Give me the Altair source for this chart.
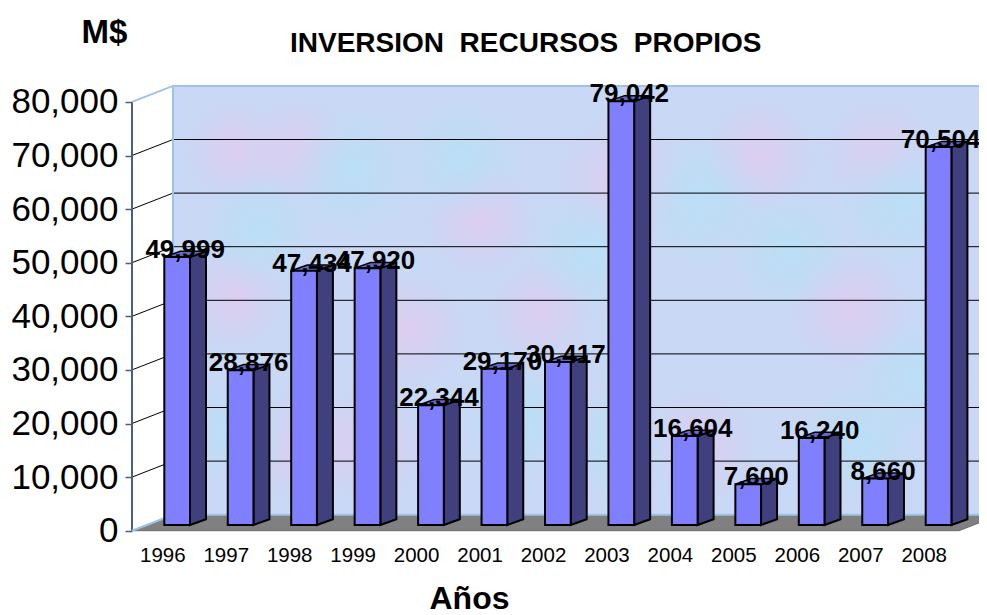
import altair as alt
import pandas as pd

years = [1996, 1997, 1998, 1999, 2000, 2001, 2002, 2003, 2004, 2005, 2006, 2007, 2008]
values = [49999, 28876, 47434, 47920, 22344, 29170, 30417, 79042, 16604, 7600, 16240, 8660, 70504]
ticks = [0, 10000, 20000, 30000, 40000, 50000, 60000, 70000, 80000]

# tints seen on the back wall: page pixel x, y, radius
pink_x = [235, 300, 410, 540, 620, 850, 880, 300, 700, 480, 760, 235, 370]
pink_y = [150, 150, 330, 313, 180, 310, 155, 445, 445, 220, 155, 300, 445]
pink_r = [58, 60, 65, 60, 75, 70, 65, 65, 65, 65, 65, 58, 65]
cyan_x = [350, 460, 590, 700, 900, 260, 520, 790, 915, 620, 240, 860]
cyan_y = [170, 160, 250, 200, 200, 230, 420, 250, 380, 445, 430, 445]
cyan_r = [75, 70, 70, 75, 75, 65, 65, 70, 70, 65, 65, 65]

W, H = 971, 606
PXY = 63.45            # pixels per year
PXV = 53.6 / 10000     # pixels per value unit
X0 = 1996 - (164.3 - 8) / PXY
X1 = X0 + W / PXY
Y0 = -(614 - 530.7) / PXV
Y1 = (530.7 - 8) / PXV

FW = 25.7 / PXY        # bar front width
FD = 16 / PXY          # bar depth in x
RISE = 5.7 / PXV       # bar depth in y
WD_X = 41 / PXY        # wall depth in x
WD_Y = 16 / PXV        # wall depth in y
XL = X0 + (132 - 8) / PXY       # front-left corner
XB = XL + WD_X                  # back-left corner
XR = X0 + (959 - 8) / PXY       # front-right corner

xs = alt.Scale(domain=[X0, X1], nice=False, zero=False)
ys = alt.Scale(domain=[Y0, Y1], nice=False, zero=False)
X = lambda **k: alt.X("x:Q", scale=xs, **k)
Y = lambda **k: alt.Y("y:Q", scale=ys, **k)
NOAX = {}


def page_x(p):
    return X0 + (p - 8) / PXY


def page_y(p):
    return (530.7 - p) / PXV


# back wall, carrying both axes
wall = alt.Chart(pd.DataFrame([{"x": XB, "x2": X1, "y": WD_Y, "y2": 80000 + WD_Y}])).mark_rect(
    fill="#c8d8f5"
).encode(
    X(
        axis=alt.Axis(
            values=years, format="d", domain=False, ticks=False, grid=False,
            labelFontSize=20.5, labelFont="Liberation Sans", labelColor="#000000", labelOffset=-2,
            labelPadding=0, offset=-69, labelOverlap=False, labelFlush=False,
            title="Años", titleFont="Liberation Sans", titleFontSize=32, titleFontWeight="bold",
            titleColor="#000000", titleX=461, titleY=63, titleBaseline="alphabetic", titleAnchor="middle",
        )
    ),
    x2="x2:Q",
    y=Y(
        axis=alt.Axis(
            values=ticks, format=",d", grid=False, domain=False,
            tickColor="#4a5f7f", tickWidth=1.5, tickSize=7, labelPadding=7,
            labelFontSize=35, labelFont="Liberation Sans", labelColor="#000000",
            offset=-124, labelFlush=False, labelOverlap=False,
            title="M$", titleFont="Liberation Sans", titleFontSize=33, titleFontWeight="bold",
            titleColor="#000000", titleAngle=0, titleX=-28, titleY=34, titleAlign="center", titleBaseline="alphabetic",
        )
    ),
    y2="y2:Q",
)


def tint_layer(xp, yp, rp, color):
    grad = alt.Gradient(
        gradient="radial", x1=0.5, y1=0.5, r1=0, x2=0.5, y2=0.5, r2=0.5,
        stops=[
            alt.GradientStop(offset=0, color=color),
            alt.GradientStop(offset=1, color=color + "00"),
        ],
    )
    frames = []
    for px, py, r in zip(xp, yp, rp):
        df = pd.DataFrame({"x": [page_x(px)], "y": [page_y(py)]})
        frames.append(
            alt.Chart(df).mark_circle(fill=grad, opacity=0.7, size=3.1416 * r * r, clip=True).encode(
                X(**NOAX), Y(**NOAX)
            )
        )
    return frames


tints = tint_layer(pink_x, pink_y, pink_r, "#e6c8ee") + tint_layer(cyan_x, cyan_y, cyan_r, "#b4e2f6")

# grid on the wall
grid_df = pd.DataFrame({"x": [XB] * 7, "x2": [X1] * 7, "y": [t + WD_Y for t in ticks[1:8]]})
grid = alt.Chart(grid_df).mark_rule(color="#000000", strokeWidth=1).encode(X(**NOAX), x2="x2:Q", y=Y(**NOAX))

# diagonal wall lines
rows = []
for t in ticks[1:8]:
    rows += [{"t": t, "x": XL, "y": t}, {"t": t, "x": XB, "y": t + WD_Y}]
diag = alt.Chart(pd.DataFrame(rows)).mark_line(color="#000000", strokeWidth=1).encode(
    X(**NOAX), Y(**NOAX), detail="t:N"
)

# value axis line
axis_line = alt.Chart(pd.DataFrame([{"x": XL, "y": 0, "y2": 80000}])).mark_rule(
    color="#4a5f7f", strokeWidth=2
).encode(X(**NOAX), y=Y(**NOAX), y2="y2:Q")

# floor
floor_df = pd.DataFrame([
    {"x": XL, "y": 0, "y2": 0},
    {"x": XB, "y": 0, "y2": WD_Y},
    {"x": XR, "y": 0, "y2": WD_Y},
    {"x": XR + WD_X, "y": WD_Y, "y2": WD_Y},
])
floor = alt.Chart(floor_df).mark_area(color="#808080", clip=True, stroke="#6a6a6a", strokeWidth=1).encode(
    X(**NOAX), Y(**NOAX), y2="y2:Q"
)

# light blue frame of the walls
frame_rows = [
    {"s": "a", "o": 0, "x": XL, "y": 80000}, {"s": "a", "o": 1, "x": XB, "y": 80000 + WD_Y},
    {"s": "a", "o": 2, "x": X1, "y": 80000 + WD_Y},
    {"s": "b", "o": 0, "x": XL, "y": 0}, {"s": "b", "o": 1, "x": XB, "y": WD_Y}, {"s": "b", "o": 2, "x": X1, "y": WD_Y},
    {"s": "c", "o": 0, "x": XB, "y": WD_Y}, {"s": "c", "o": 1, "x": XB, "y": 80000 + WD_Y},
]
frame = alt.Chart(pd.DataFrame(frame_rows)).mark_line(color="#9dc3e6", strokeWidth=2, clip=True).encode(
    X(**NOAX), Y(**NOAX), detail="s:N", order="o:Q"
)

# bars
base = 5.7 / PXV
side_rows, top_rows, front_rows, label_rows = [], [], [], []
for yr, v in zip(years, values):
    top = v + base
    R = yr + FW
    side_rows += [
        {"yr": yr, "x": R, "y": base, "y2": top},
        {"yr": yr, "x": R + FD, "y": base + RISE, "y2": top + RISE},
    ]
    top_rows += [
        {"yr": yr, "x": yr, "y": top, "y2": top},
        {"yr": yr, "x": yr + FD, "y": top, "y2": top + RISE},
        {"yr": yr, "x": R, "y": top, "y2": top + RISE},
        {"yr": yr, "x": R + FD, "y": top + RISE, "y2": top + RISE},
    ]
    front_rows.append({"yr": yr, "x": yr, "x2": R, "y": base, "y2": top})
    # the last label would otherwise run off the page
    nudge = -6 / PXY if yr == 2008 else 0
    label_rows.append({"x": yr + (FW + FD) / 2 + nudge, "y": top - 1 / PXV, "label": f"{v:,}"})

side = alt.Chart(pd.DataFrame(side_rows)).mark_area(color="#40407f", stroke="#000000", strokeWidth=2).encode(
    X(**NOAX), Y(**NOAX), y2="y2:Q", detail="yr:N"
)
topf = alt.Chart(pd.DataFrame(top_rows)).mark_area(color="#6666cc", stroke="#000000", strokeWidth=1.5).encode(
    X(**NOAX), Y(**NOAX), y2="y2:Q", detail="yr:N"
)
front = alt.Chart(pd.DataFrame(front_rows)).mark_rect(color="#8080ff", stroke="#000000", strokeWidth=2).encode(
    X(**NOAX), x2="x2:Q", y=Y(**NOAX), y2="y2:Q"
)
labels = alt.Chart(pd.DataFrame(label_rows)).mark_text(
    font="Liberation Sans", fontWeight="bold", fontSize=26, color="#000000", align="center", baseline="alphabetic"
).encode(X(**NOAX), Y(**NOAX), text="label:N")

chart = alt.layer(wall, *tints, grid, diag, floor, axis_line, frame, side, topf, front, labels).properties(
    width=W, height=H, padding=0, autosize=alt.AutoSizeParams(type="none"), background="#ffffff",
    title=alt.TitleParams(
        "INVERSION\u00a0\u00a0RECURSOS\u00a0\u00a0PROPIOS", font="Liberation Sans", fontSize=28, fontWeight="bold",
        color="#000000", anchor="start", frame="group", dx=282, dy=72, offset=0, baseline="alphabetic",
    ),
).configure_view(stroke=None)

chart.save("out.html", embed_options={"renderer": "svg", "actions": False})
